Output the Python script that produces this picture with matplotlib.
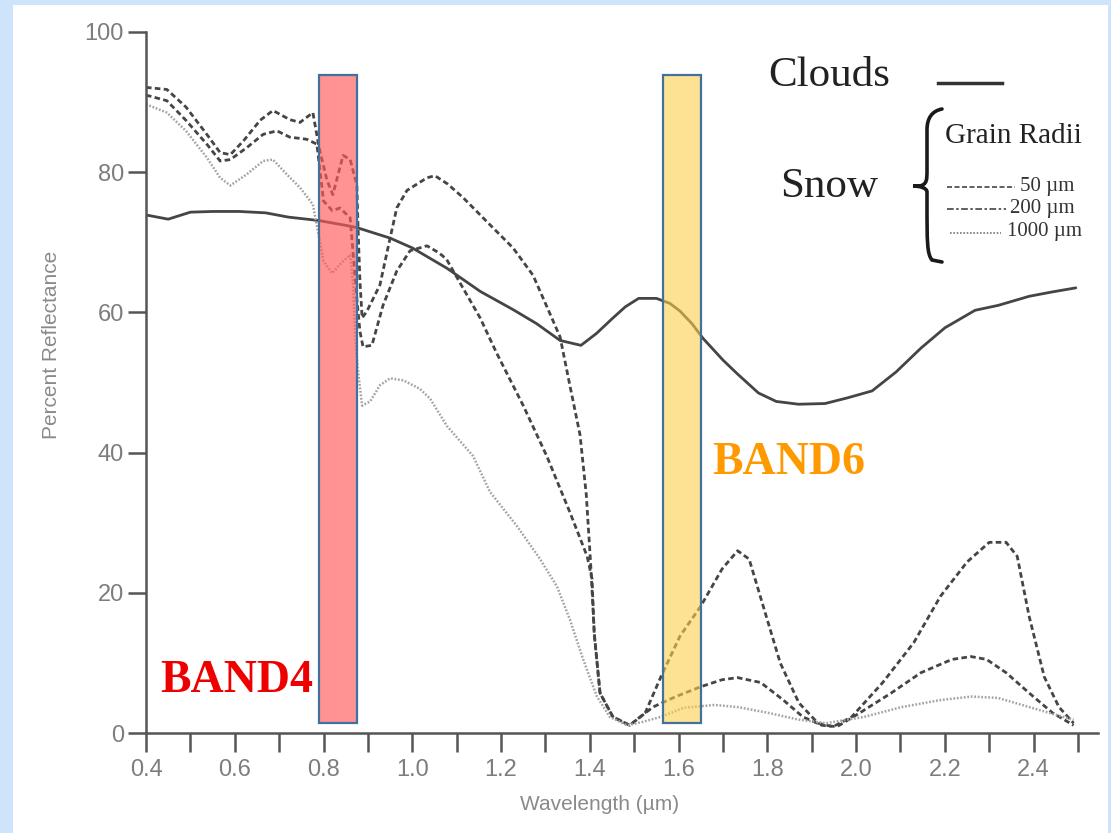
import matplotlib
matplotlib.use("Agg")
import matplotlib.pyplot as plt
from matplotlib.patches import Rectangle, PathPatch
from matplotlib.path import Path
from matplotlib.lines import Line2D

# ---------------- data ----------------
cloud_x = [0.40, 0.45, 0.50, 0.55, 0.61, 0.67, 0.72, 0.79, 0.86, 0.875, 0.95, 1.00, 1.078,
           1.153, 1.227, 1.28, 1.333, 1.38, 1.415, 1.452, 1.48, 1.51, 1.55, 1.58, 1.603,
           1.63, 1.655, 1.70, 1.733, 1.78, 1.82, 1.87, 1.93, 1.98, 2.036, 2.09, 2.146,
           2.20, 2.268, 2.32, 2.39, 2.44, 2.495]
cloud_y = [73.9, 73.3, 74.3, 74.4, 74.4, 74.2, 73.6, 73.1, 72.3, 72.1, 70.6, 69.2, 66.3,
           63.0, 60.4, 58.4, 56.0, 55.3, 57.0, 59.2, 60.8, 62.0, 62.0, 61.3, 60.2,
           58.4, 56.3, 53.2, 51.2, 48.5, 47.3, 46.9, 47.0, 47.8, 48.8, 51.5, 54.9,
           57.8, 60.3, 61.0, 62.3, 62.9, 63.5]

snow50_x = [0.40, 0.447, 0.49, 0.537, 0.567, 0.59, 0.62, 0.657, 0.686, 0.724, 0.747, 0.776,
            0.79, 0.808, 0.821, 0.844, 0.86, 0.875, 0.878, 0.882, 0.887, 0.898, 0.927,
            0.95, 0.965, 0.988, 1.033, 1.051, 1.08, 1.114, 1.175, 1.227, 1.272, 1.295,
            1.333, 1.355, 1.378, 1.392, 1.402, 1.41, 1.423, 1.452, 1.49, 1.525, 1.56,
            1.603, 1.65, 1.698, 1.733, 1.759, 1.793, 1.829, 1.871, 1.914, 1.948, 1.99,
            2.06, 2.13, 2.19, 2.25, 2.30, 2.338, 2.363, 2.39, 2.424, 2.457, 2.49]
snow50_y = [92.1, 91.8, 89.3, 85.4, 82.8, 82.5, 84.5, 87.4, 88.8, 87.5, 87.1, 88.5,
            83.5, 78.8, 76.8, 82.4, 81.8, 78.2, 71.6, 64.5, 59.2, 60.2, 63.9,
            70.6, 74.9, 77.4, 79.2, 79.5, 78.3, 76.4, 72.5, 69.2, 65.3, 62.0,
            56.5, 49.6, 42.5, 34.0, 24.0, 14.3, 5.7, 2.3, 1.1, 2.9, 8.0,
            13.8, 18.1, 23.4, 26.0, 24.8, 17.6, 10.0, 4.3, 1.4, 0.9, 2.3,
            7.2, 12.9, 19.5, 24.4, 27.2, 27.2, 25.2, 16.6, 8.0, 3.7, 1.4]

snow200_x = [0.40, 0.447, 0.49, 0.537, 0.567, 0.59, 0.627, 0.664, 0.695, 0.724, 0.762,
             0.785, 0.80, 0.82, 0.837, 0.86, 0.867, 0.875, 0.882, 0.889, 0.909, 0.934,
             0.965, 0.995, 1.033, 1.06, 1.077, 1.114, 1.153, 1.19, 1.25, 1.303, 1.355,
             1.394, 1.405, 1.41, 1.423, 1.452, 1.49, 1.542, 1.594, 1.65, 1.698, 1.733,
             1.785, 1.836, 1.88, 1.923, 1.957, 2.009, 2.079, 2.146, 2.216, 2.259, 2.294,
             2.338, 2.39, 2.442, 2.49]
snow200_y = [91.0, 90.2, 87.4, 84.0, 81.6, 81.8, 83.5, 85.4, 85.9, 85.0, 84.7,
             84.0, 75.9, 74.5, 74.9, 73.5, 68.2, 62.0, 57.3, 55.1, 55.3, 61.0,
             65.9, 68.8, 69.5, 68.5, 67.6, 63.5, 59.2, 54.2, 46.7, 39.5, 31.5,
             25.2, 22.0, 14.0, 5.7, 2.3, 1.1, 3.7, 5.2, 6.6, 7.6, 7.9,
             7.2, 4.7, 2.3, 1.1, 0.9, 2.9, 5.7, 8.6, 10.5, 10.9, 10.5,
             8.6, 5.7, 2.9, 1.1]

snow1000_x = [0.40, 0.447, 0.49, 0.537, 0.567, 0.59, 0.627, 0.664, 0.686, 0.717, 0.747,
              0.776, 0.80, 0.819, 0.844, 0.86, 0.867, 0.871, 0.877, 0.887, 0.905, 0.927,
              0.95, 0.98, 1.017, 1.04, 1.078, 1.137, 1.175, 1.236, 1.288, 1.326, 1.355,
              1.385, 1.416, 1.445, 1.484, 1.52, 1.56, 1.612, 1.681, 1.733, 1.80, 1.871,
              1.932, 2.018, 2.103, 2.19, 2.26, 2.32, 2.39, 2.45, 2.49]
snow1000_y = [89.7, 88.5, 85.9, 82.1, 79.2, 78.1, 79.7, 81.6, 81.8, 79.7, 77.8,
              75.4, 67.3, 65.6, 67.3, 68.2, 63.9, 57.3, 52.0, 46.7, 47.3, 49.6,
              50.6, 50.3, 49.1, 47.7, 43.8, 39.5, 34.4, 29.5, 24.8, 20.9, 16.2,
              10.5, 5.2, 2.3, 1.1, 1.6, 2.3, 3.6, 4.0, 3.7, 2.9, 1.9,
              1.4, 2.3, 3.7, 4.7, 5.2, 5.0, 3.7, 2.6, 1.9]

x_major = [0.4, 0.6, 0.8, 1.0, 1.2, 1.4, 1.6, 1.8, 2.0, 2.2, 2.4]
x_minor = [0.5, 0.7, 0.9, 1.1, 1.3, 1.5, 1.7, 1.9, 2.1, 2.3, 2.5]
y_major = [0, 20, 40, 60, 80, 100]

band4 = (0.79, 0.875)
band6 = (1.565, 1.651)
band_y = (1.4, 93.9)

# ---------------- figure ----------------
W, H = 1111, 833
fig = plt.figure(figsize=(W / 100, H / 100), dpi=100, facecolor="#cde4fb")


def fx(px):
    return px / W


def fy(py):
    return 1 - py / H


fig.add_artist(Rectangle((fx(13), 0), fx(1108) - fx(13), fy(5), transform=fig.transFigure,
                         facecolor="white", edgecolor="none", zorder=0))

ax = fig.add_axes([fx(146), fy(733), fx(1098) - fx(146), fy(32) - fy(733)])
ax.patch.set_alpha(0)
ax.set_xlim(0.4, 2.545)
ax.set_ylim(0, 100)

dark = "#454545"
ax.plot(cloud_x, cloud_y, color=dark, lw=2.0, solid_capstyle="round", zorder=2)
ax.plot(snow50_x, snow50_y, color=dark, lw=2.0, linestyle=(0, (2.0, 1.2)), zorder=2)
ax.plot(snow200_x, snow200_y, color=dark, lw=2.0, linestyle=(0, (2.0, 1.2)), zorder=2)
ax.plot(snow1000_x, snow1000_y, color="#a3a3a3", lw=1.8, linestyle=(0, (0.7, 0.7)), zorder=2)

# bands
for (x0, x1), fc, a in [(band4, "#ff5a5a", 0.66), (band6, "#fccf4d", 0.6)]:
    ax.add_patch(Rectangle((x0, band_y[0]), x1 - x0, band_y[1] - band_y[0],
                           facecolor=fc, alpha=a, edgecolor="none", zorder=3))
    ax.add_patch(Rectangle((x0, band_y[0]), x1 - x0, band_y[1] - band_y[0],
                           facecolor="none", edgecolor="#41719c", lw=1.6, zorder=4))

# axes styling
for s in ["top", "right"]:
    ax.spines[s].set_visible(False)
for s in ["left", "bottom"]:
    ax.spines[s].set_color("#555555")
    ax.spines[s].set_linewidth(1.8)

ax.set_xticks(x_major)
ax.set_xticklabels([f"{v:.1f}" for v in x_major])
ax.set_xticks(x_minor, minor=True)
ax.set_yticks(y_major)
ax.set_yticklabels([str(v) for v in y_major])
ax.tick_params(axis="x", which="both", direction="out", length=14, width=1.8,
               color="#555555", pad=5, labelsize=17, labelcolor="#7d7d7d")
ax.tick_params(axis="y", which="major", direction="out", length=13, width=1.8,
               color="#555555", pad=3, labelsize=17, labelcolor="#7d7d7d")
for lab in ax.get_xticklabels() + ax.get_yticklabels():
    lab.set_fontfamily("Liberation Sans")

fig.text(fx(52), fy(345), "Percent Reflectance", rotation=90, ha="center", va="center",
         fontsize=15, color="#8a8a8a", family="Liberation Sans")
fig.text(fx(600), fy(805), "Wavelength (µm)", ha="center", va="center",
         fontsize=15, color="#8a8a8a", family="Liberation Sans")

# band labels
fig.text(fx(160), fy(681), "BAND4", ha="left", va="center", fontsize=33,
         fontweight="bold", color="#ee0000", family="Liberation Serif")
fig.text(fx(712), fy(463), "BAND6", ha="left", va="center", fontsize=33,
         fontweight="bold", color="#ff9900", family="Liberation Serif")

# legend block
serif = "Liberation Serif"
fig.text(fx(768), fy(76), "Clouds", ha="left", va="center", fontsize=31, color="#222222",
         family=serif)
fig.add_artist(Line2D([fx(938), fx(1002)], [fy(83), fy(83)], color="#333333", lw=2.5,
                      transform=fig.transFigure))
fig.text(fx(780), fy(187), "Snow", ha="left", va="center", fontsize=31, color="#222222",
         family=serif)

# curly brace
bx = [942, 932, 927, 927, 927, 927, 927, 920, 913, 920, 927, 927, 927, 927, 927, 932, 942]
by = [109, 111, 118, 130, 170, 180, 184, 186, 186, 186, 188, 192, 202, 242, 254, 260, 262]
codes = [Path.MOVETO, Path.CURVE4, Path.CURVE4, Path.CURVE4, Path.LINETO, Path.CURVE4,
         Path.CURVE4, Path.CURVE4, Path.LINETO, Path.CURVE4, Path.CURVE4, Path.CURVE4,
         Path.LINETO, Path.CURVE4, Path.CURVE4, Path.CURVE4, Path.LINETO]
verts = [(fx(a), fy(b)) for a, b in zip(bx, by)]
fig.add_artist(PathPatch(Path(verts, codes), facecolor="none", edgecolor="#1a1a1a", lw=2.6,
                         transform=fig.transFigure, capstyle="round"))

fig.text(fx(945), fy(136), "Grain Radii", ha="left", va="center", fontsize=21,
         color="#222222", family=serif)
fig.add_artist(Line2D([fx(947), fx(1015)], [fy(187), fy(187)], color="#444444", lw=1.2,
                      linestyle=(0, (3, 1.5)), transform=fig.transFigure))
fig.text(fx(1020), fy(186), "50 µm", ha="left", va="center", fontsize=15,
         color="#333333", family=serif)
fig.add_artist(Line2D([fx(947), fx(1006)], [fy(209), fy(209)], color="#444444", lw=1.2,
                      linestyle=(0, (4, 1.5, 1.5, 1.5)), transform=fig.transFigure))
fig.text(fx(1010), fy(208), "200 µm", ha="left", va="center", fontsize=15,
         color="#333333", family=serif)
fig.add_artist(Line2D([fx(950), fx(1001)], [fy(233), fy(233)], color="#777777", lw=1.2,
                      linestyle=(0, (1, 1)), transform=fig.transFigure))
fig.text(fx(1007), fy(232), "1000 µm", ha="left", va="center", fontsize=15,
         color="#333333", family=serif)

fig.savefig("out.png", dpi=100, facecolor=fig.get_facecolor())
